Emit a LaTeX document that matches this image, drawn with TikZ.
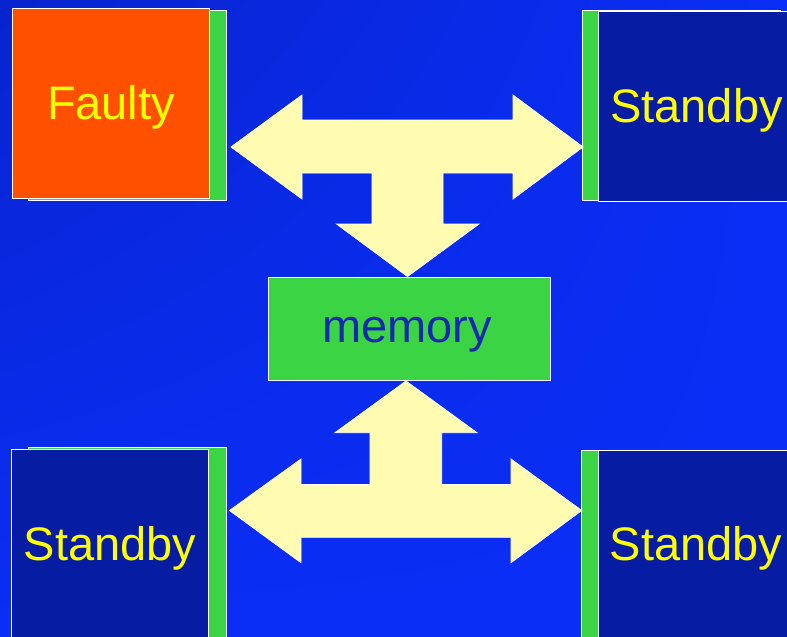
\documentclass[tikz,border=0pt]{standalone}
\usepackage{fontspec}
\setmainfont{Liberation Sans}
\usetikzlibrary{shadings}
\definecolor{bgA}{RGB}{8,36,206}
\definecolor{bgB}{RGB}{10,46,246}
\definecolor{navy}{RGB}{6,28,162}
\definecolor{grn}{RGB}{58,212,68}
\definecolor{org}{RGB}{255,80,0}
\definecolor{txtY}{RGB}{255,255,0}
\definecolor{memtxt}{RGB}{20,40,176}
\definecolor{arr}{RGB}{255,251,176}
\tikzset{
  boxbase/.style={draw=white, line width=0.8pt, inner sep=0pt, anchor=north west,
    minimum width=197pt, minimum height=190pt},
  backbar/.style={boxbase, fill=grn, minimum width=198pt},
  frontbox/.style={boxbase},
  boxlabel/.style={anchor=base, inner sep=0pt, text=txtY, font=\fontsize{47}{50}\selectfont},
  memorybox/.style={draw=white, line width=0.8pt, fill=grn, inner sep=0pt, anchor=north west,
    minimum width=282pt, minimum height=103pt},
  memlabel/.style={anchor=base, inner sep=0pt, text=memtxt, font=\fontsize{47}{50}\selectfont},
  blockarrow/.style={fill=arr, draw=white, line width=0.8pt, line join=miter}
}
\begin{document}
\begin{tikzpicture}[x=1pt,y=-1pt]
\useasboundingbox (0,0) rectangle (787,637);
\clip (0,0) rectangle (787,637);
\shade[upper left=bgA, upper right=bgB, lower left=bgB, lower right=bgB] (0,0) rectangle (787,637);

% top-left
\node[backbar] (faultyback) at (28,10) {};
\node[frontbox, fill=org] (faulty) at (12,8) {};
\node[boxlabel] (faultytext) at (111,119) {Faulty};
% top-right
\node[backbar] (trback) at (582,10) {};
\node[frontbox, fill=navy] (tr) at (598,11) {};
\node[boxlabel] (trtext) at (696.5,122.5) {Standby};
% bottom-left
\node[backbar] (blback) at (28,447) {};
\node[frontbox, fill=navy] (bl) at (11,449) {};
\node[boxlabel] (bltext) at (110,560) {Standby};
% bottom-right
\node[backbar] (brback) at (581,450) {};
\node[frontbox, fill=navy] (br) at (598,450) {};
\node[boxlabel] (brtext) at (696,560.5) {Standby};
% memory
\node[memorybox] (memory) at (268,277) {};
\node[memlabel] (memtext) at (407,342) {memory};

% top T arrow
\draw[blockarrow] (231,147) -- (302,95) -- (302,120) -- (513,120) -- (513,95) -- (583,147)
  -- (513,199) -- (513,173) -- (443,173) -- (443,224) -- (479,224) -- (407.5,276.5)
  -- (336.5,224) -- (372,224) -- (372,173) -- (302,173) -- (302,199) -- cycle;
% bottom T arrow
\draw[blockarrow] (229.5,510.5) -- (301,459) -- (301,484.5) -- (370,484.5) -- (370,432.7)
  -- (335,432.7) -- (406,381) -- (477,432.7) -- (441.7,432.7) -- (441.7,484.5) -- (511,484.5)
  -- (511,459) -- (581.7,510.5) -- (511,562.7) -- (511,537.3) -- (301,537.3) -- (301,562.7) -- cycle;
\end{tikzpicture}
\end{document}
